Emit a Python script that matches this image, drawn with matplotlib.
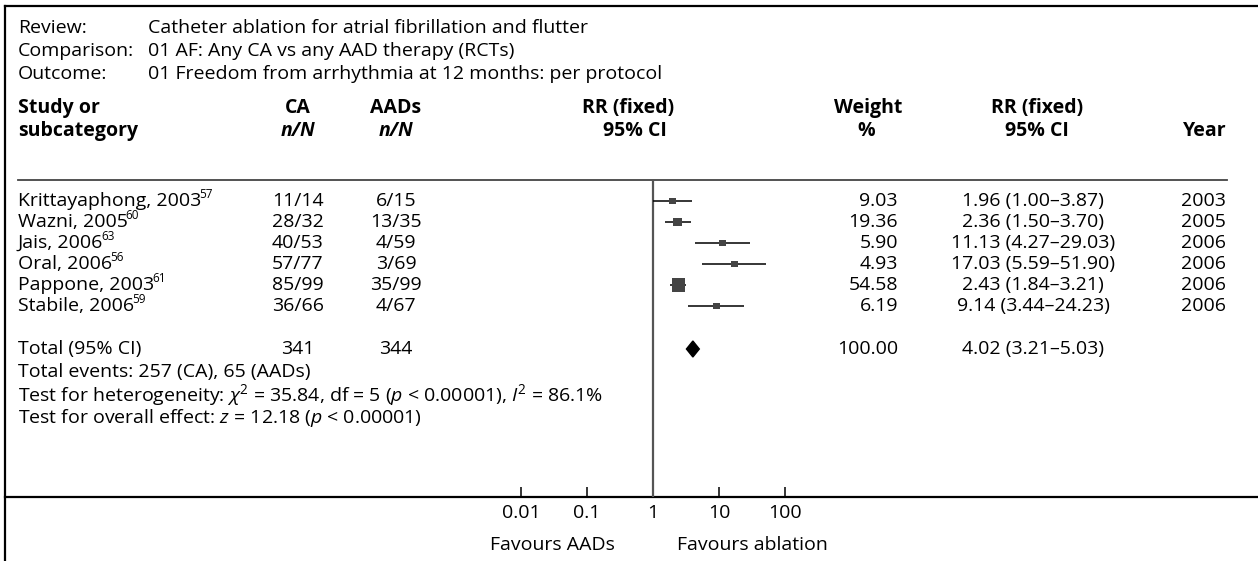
import numpy as np
import matplotlib
matplotlib.use("Agg")
import matplotlib.pyplot as plt
from matplotlib.patches import Polygon

plt.rcParams["font.family"] = ["Open Sans", "DejaVu Sans"]
plt.rcParams["mathtext.fontset"] = "custom"
plt.rcParams["mathtext.rm"] = "Open Sans"
plt.rcParams["mathtext.it"] = "Open Sans:italic"
plt.rcParams["mathtext.bf"] = "Open Sans:bold"

### données
studies = ["Krittayaphong, 2003", "Wazni, 2005", "Jais, 2006", "Oral, 2006",
           "Pappone, 2003", "Stabile, 2006"]
refs = ["57", "60", "63", "56", "61", "59"]
ca = ["11/14", "28/32", "40/53", "57/77", "85/99", "36/66"]
aad = ["6/15", "13/35", "4/59", "3/69", "35/99", "4/67"]
rr = np.array([1.96, 2.36, 11.13, 17.03, 2.43, 9.14])
lo = np.array([1.00, 1.50, 4.27, 5.59, 1.84, 3.44])
hi = np.array([3.87, 3.70, 29.03, 51.90, 3.21, 24.23])
weight = np.array([9.03, 19.36, 5.90, 4.93, 54.58, 6.19])
years = ["2003", "2005", "2006", "2006", "2006", "2006"]

tot_rr, tot_lo, tot_hi = 4.02, 3.21, 5.03
tot_ca, tot_aad = "341", "344"
tot_weight = "100.00"

ticks = [0.01, 0.1, 1, 10, 100]
tick_labels = ["0.01", "0.1", "1", "10", "100"]

fs = 14
W, H = 1258, 561
fig = plt.figure(figsize=(W / 100, H / 100), dpi=100)
ax = fig.add_axes([0, 0, 1, 1])
ax.set_xlim(0, W)
ax.set_ylim(H, 0)
ax.axis("off")

# cadre
ax.plot([5, W], [6, 6], color="black", lw=1.6)
ax.plot([5, 5], [6, H], color="black", lw=1.6)
ax.plot([5, W], [497, 497], color="black", lw=1.6)
ax.plot([18, 1227], [180, 180], color="#444444", lw=1.3)

# en-tête
xl, xv = 18, 148
for y, lab, val in [(28, "Review:", "Catheter ablation for atrial fibrillation and flutter"),
                    (51, "Comparison:", "01 AF: Any CA vs any AAD therapy (RCTs)"),
                    (74, "Outcome:", "01 Freedom from arrhythmia at 12 months: per protocol")]:
    ax.text(xl, y, lab, fontsize=fs, va="center")
    ax.text(xv, y, val, fontsize=fs, va="center")

hb = dict(fontsize=fs, fontweight="bold", va="center")
ax.text(xl, 108, "Study or", **hb)
ax.text(xl, 131, "subcategory", **hb)
ax.text(298, 108, "CA", ha="center", **hb)
ax.text(298, 131, "n/N", ha="center", style="italic", **hb)
ax.text(396, 108, "AADs", ha="center", **hb)
ax.text(396, 131, "n/N", ha="center", style="italic", **hb)
ax.text(628, 108, "RR (fixed)", ha="center", **hb)
ax.text(635, 131, "95% CI", ha="center", **hb)
ax.text(868, 108, "Weight", ha="center", **hb)
ax.text(866, 131, "%", ha="center", **hb)
ax.text(1037, 108, "RR (fixed)", ha="center", **hb)
ax.text(1037, 131, "95% CI", ha="center", **hb)
ax.text(1227, 131, "Year", ha="right", **hb)

# lignes des études
ys = 201 + 21 * np.arange(len(studies))
for i, y in enumerate(ys):
    t = ax.text(xl, y, studies[i], fontsize=fs, va="center")
    ax.annotate(refs[i], xy=(1, 0.5), xycoords=t, xytext=(-1.5, 0),
                textcoords="offset points", fontsize=8.5, va="bottom", ha="left")
    ax.text(298, y, ca[i], fontsize=fs, va="center", ha="center")
    ax.text(396, y, aad[i], fontsize=fs, va="center", ha="center")
    ax.text(898, y, "%.2f" % weight[i], fontsize=fs, va="center", ha="right")
    ax.text(1033, y, "%.2f (%.2f–%.2f)" % (rr[i], lo[i], hi[i]), fontsize=fs,
            va="center", ha="center")
    ax.text(1226, y, years[i], fontsize=fs, va="center", ha="right")

yt = 349
ax.text(xl, yt, "Total (95% CI)", fontsize=fs, va="center")
ax.text(298, yt, tot_ca, fontsize=fs, va="center", ha="center")
ax.text(396, yt, tot_aad, fontsize=fs, va="center", ha="center")
ax.text(898, yt, tot_weight, fontsize=fs, va="center", ha="right")
ax.text(1033, yt, "%.2f (%.2f–%.2f)" % (tot_rr, tot_lo, tot_hi), fontsize=fs,
        va="center", ha="center")
ax.text(xl, 372, "Total events: 257 (CA), 65 (AADs)", fontsize=fs, va="center")
ax.text(xl, 395, r"Test for heterogeneity: $\chi^2$ = 35.84, df = 5 ($p$ < 0.00001), $I^2$ = 86.1%",
        fontsize=fs, va="center")
ax.text(xl, 418, r"Test for overall effect: $z$ = 12.18 ($p$ < 0.00001)",
        fontsize=fs, va="center")

### forest plot (échelle log)
x1, dec = 653, 66
axf = fig.add_axes([(x1 - 3 * dec) / W, 0, 6 * dec / W, 1])
axf.patch.set_alpha(0)
axf.set_xscale("log")
axf.set_xlim(1e-3, 1e3)
axf.set_ylim(H, 0)
for s in ["top", "left", "right"]:
    axf.spines[s].set_visible(False)
axf.spines["bottom"].set_position(("data", 497))
axf.spines["bottom"].set_visible(False)
axf.set_yticks([])
axf.set_xticks(ticks)
axf.set_xticklabels(tick_labels, fontsize=fs)
axf.minorticks_off()
axf.tick_params(axis="x", direction="in", length=7, width=1.1, pad=5)

axf.vlines(1, 180, 497, color="#555555", lw=1.6)
axf.hlines(ys, lo, hi, color="black", lw=1.1)
side = np.maximum(5, 13.5 * np.sqrt(weight / 100))
axf.scatter(rr, ys, marker="s", s=side ** 2, color="#444444", zorder=3, linewidths=0)
diamond = Polygon([(tot_lo, yt), (tot_rr, yt - 8), (tot_hi, yt), (tot_rr, yt + 8)],
                  closed=True, color="black")
axf.add_patch(diamond)

ax.text(552, 545, "Favours AADs", fontsize=fs, va="center", ha="center")
ax.text(752, 545, "Favours ablation", fontsize=fs, va="center", ha="center")

fig.savefig("out.png", dpi=100)
